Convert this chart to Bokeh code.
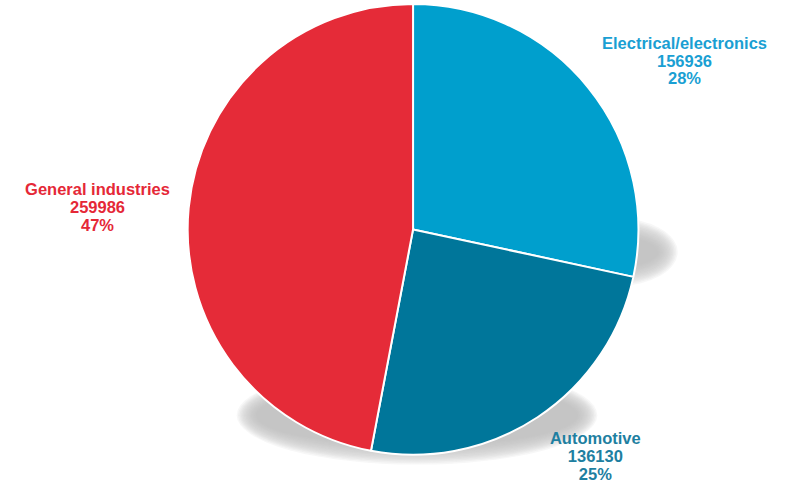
import numpy as np
from bokeh.plotting import figure
from bokeh.models import Range1d, ColumnDataSource
from bokeh.embed import file_html
from bokeh.resources import INLINE
from bokeh.core.properties import value

# ---- data ----
categories = ["Electrical/electronics", "Automotive", "General industries"]
amounts = [156936, 136130, 259986]
slice_colors = ["#009fcd", "#00769a", "#e52b38"]
label_colors = ["#1a9fd3", "#1e7fa1", "#e52837"]

# ---- layout (in reference-pixel units) ----
REF_W, REF_H = 797, 498
CX, CY = 421, 236.5          # pie centre
R = 230                      # pie radius
W, H = 781, 482              # figure size in screen px
FONT = "Liberation Sans"
FONT_SIZE = "16.5px"
LINE_GAP = 18.5
# label anchors (centre of the middle text line) relative to pie centre
label_anchor = [(277, 174.5), (186, -234.5), (-322, 23.5)]

p = figure(width=W, height=H,
           x_range=Range1d(-CX, REF_W - CX),
           y_range=Range1d(CY - REF_H, CY),
           output_backend="svg", toolbar_location=None, min_border=0)
p.axis.visible = False
p.grid.visible = False
p.outline_line_color = None
p.background_fill_color = "white"
p.border_fill_color = "white"

# ---- soft shadow (two blurred lobes) ----
# (centre x, centre y, width, height) relative to pie centre
lobes = [(208, -23.5, 106, 52), (4, -192, 350, 84)]
for d in np.arange(9, -11, -1.5):
    for (lx, ly, lw, lh) in lobes:
        p.ellipse(x=lx, y=ly, width=lw + 2 * d, height=max(lh + 2 * d, 4),
                  fill_color="#bebebe", fill_alpha=0.12, line_color=None)

# ---- pie ----
vals = np.array(amounts, dtype=float)
frac = vals / vals.sum()
cum = np.cumsum(frac)
start = np.pi / 2 - 2 * np.pi * (cum - frac)
end = np.pi / 2 - 2 * np.pi * cum
src = ColumnDataSource(dict(start=start, end=end, color=slice_colors))
p.wedge(x=0, y=0, radius=R, start_angle="start", end_angle="end",
        direction="clock", fill_color="color", line_color="white",
        line_width=2, source=src)

# ---- labels ----
pcts = [f"{round(f * 100):.0f}%" for f in frac]
for i, name in enumerate(categories):
    ax, ay = label_anchor[i]
    lines = [name, str(amounts[i]), pcts[i]]
    for j, t in enumerate(lines):
        p.text(x=[ax], y=[ay + (1 - j) * LINE_GAP], text=[t],
               text_align="center", text_baseline="middle",
               text_font=value(FONT), text_font_style="bold",
               text_font_size=FONT_SIZE, text_color=label_colors[i])

open("out.html", "w").write(file_html(p, INLINE))
